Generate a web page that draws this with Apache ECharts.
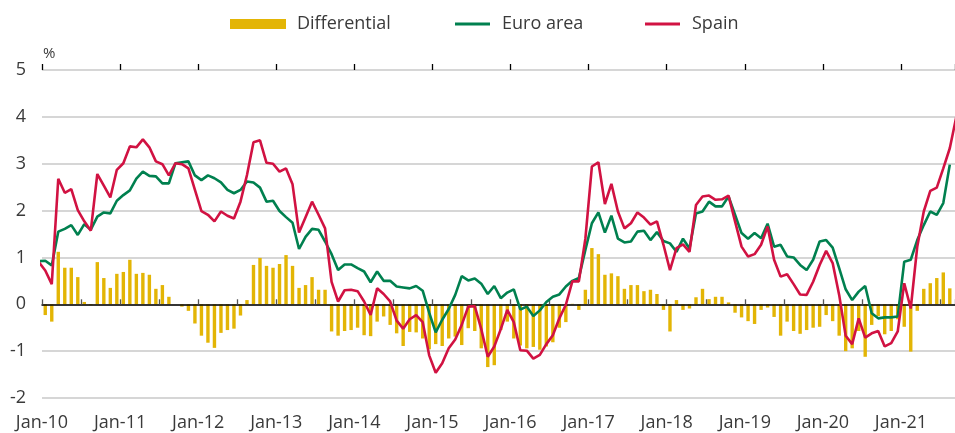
<!DOCTYPE html>
<html>
<head>
<meta charset="utf-8">
<script src="https://cdn.jsdelivr.net/npm/echarts@6/dist/echarts.min.js"></script>
<style>
html, body { margin: 0; padding: 0; background: #fff; }
#chart { width: 955px; height: 433px; }
</style>
</head>
<body>
<div id="chart"></div>
<script>
// monthly values, Dec-09 .. Sep-21 (first and last month sit just outside the plot)
var yearLabels = ['Jan-10', 'Jan-11', 'Jan-12', 'Jan-13', 'Jan-14', 'Jan-15',
    'Jan-16', 'Jan-17', 'Jan-18', 'Jan-19', 'Jan-20', 'Jan-21'];

var spain = [0.90,
    0.72, 0.43, 2.68, 2.38, 2.46, 2.01, 1.77, 1.57, 2.78, 2.53, 2.28, 2.87,
    3.01, 3.37, 3.35, 3.52, 3.35, 3.05, 2.99, 2.75, 3.01, 2.99, 2.90, 2.44,
    1.99, 1.91, 1.77, 1.98, 1.89, 1.83, 2.19, 2.76, 3.46, 3.50, 3.02, 3.00,
    2.83, 2.90, 2.56, 1.53, 1.86, 2.19, 1.91, 1.62, 0.48, 0.06, 0.30, 0.31,
    0.28, 0.06, -0.23, 0.34, 0.22, 0.06, -0.35, -0.52, -0.32, -0.23, -0.38, -1.09,
    -1.46, -1.26, -0.94, -0.75, -0.44, -0.05, -0.04, -0.53, -1.12, -0.90, -0.53, -0.12,
    -0.38, -0.98, -0.99, -1.16, -1.08, -0.85, -0.66, -0.30, -0.01, 0.49, 0.49, 1.40,
    2.94, 3.03, 2.14, 2.57, 1.98, 1.62, 1.73, 1.96, 1.85, 1.70, 1.77, 1.27,
    0.73, 1.20, 1.28, 1.12, 2.12, 2.30, 2.32, 2.23, 2.24, 2.32, 1.77, 1.23,
    1.02, 1.07, 1.27, 1.66, 0.95, 0.59, 0.64, 0.43, 0.21, 0.20, 0.48, 0.84,
    1.14, 0.88, 0.20, -0.67, -0.85, -0.30, -0.71, -0.62, -0.57, -0.90, -0.83, -0.58,
    0.45, -0.09, 1.23, 1.98, 2.42, 2.49, 2.90, 3.33, 4.00];

var euroArea = [0.92,
    0.93, 0.83, 1.55, 1.61, 1.69, 1.48, 1.71, 1.59, 1.87, 1.96, 1.94, 2.21,
    2.33, 2.43, 2.68, 2.83, 2.74, 2.73, 2.58, 2.58, 3.01, 3.03, 3.05, 2.75,
    2.65, 2.75, 2.69, 2.60, 2.44, 2.37, 2.44, 2.62, 2.60, 2.49, 2.19, 2.21,
    1.99, 1.86, 1.74, 1.18, 1.44, 1.61, 1.59, 1.34, 1.07, 0.73, 0.85, 0.85,
    0.77, 0.70, 0.47, 0.70, 0.50, 0.50, 0.38, 0.36, 0.34, 0.39, 0.29, -0.18,
    -0.60, -0.33, -0.10, 0.20, 0.60, 0.51, 0.55, 0.44, 0.22, 0.39, 0.13, 0.25,
    0.32, -0.11, -0.05, -0.25, -0.13, 0.05, 0.16, 0.21, 0.38, 0.50, 0.56, 1.16,
    1.73, 1.96, 1.53, 1.89, 1.40, 1.32, 1.34, 1.55, 1.57, 1.37, 1.54, 1.35,
    1.30, 1.12, 1.40, 1.19, 1.94, 1.98, 2.19, 2.09, 2.09, 2.30, 1.91, 1.52,
    1.40, 1.52, 1.41, 1.72, 1.23, 1.27, 1.02, 1.00, 0.84, 0.73, 0.95, 1.34,
    1.37, 1.21, 0.77, 0.32, 0.09, 0.27, 0.39, -0.19, -0.30, -0.28, -0.28, -0.26,
    0.91, 0.95, 1.37, 1.69, 1.98, 1.91, 2.16, 2.98, null];

var differential = [null,
    -0.23, -0.37, 1.12, 0.78, 0.78, 0.58, 0.05, -0.02, 0.90, 0.56, 0.35, 0.65,
    0.69, 0.95, 0.65, 0.67, 0.63, 0.33, 0.41, 0.16, 0.00, -0.05, -0.14, -0.41,
    -0.67, -0.82, -0.93, -0.61, -0.55, -0.52, -0.24, 0.09, 0.84, 0.99, 0.82, 0.78,
    0.86, 1.05, 0.82, 0.35, 0.41, 0.58, 0.31, 0.31, -0.58, -0.67, -0.57, -0.55,
    -0.50, -0.66, -0.68, -0.37, -0.26, -0.44, -0.62, -0.89, -0.59, -0.60, -0.73, -0.96,
    -0.85, -0.89, -0.73, -0.69, -0.87, -0.51, -0.57, -0.94, -1.34, -1.30, -0.55, -0.37,
    -0.73, -0.88, -0.94, -0.91, -0.97, -0.90, -0.81, -0.50, -0.38, 0.01, -0.12, 0.31,
    1.20, 1.07, 0.63, 0.66, 0.60, 0.33, 0.41, 0.41, 0.28, 0.31, 0.22, -0.12,
    -0.58, 0.09, -0.12, -0.09, 0.15, 0.33, 0.11, 0.16, 0.16, 0.04, -0.18, -0.28,
    -0.36, -0.42, -0.12, -0.07, -0.27, -0.67, -0.37, -0.57, -0.63, -0.55, -0.50, -0.48,
    -0.23, -0.36, -0.67, -1.00, -0.94, -0.57, -1.12, -0.44, -0.25, -0.64, -0.57, -0.32,
    -0.48, -1.01, -0.14, 0.33, 0.45, 0.56, 0.68, 0.34, null];

var FONT = '"Open Sans", "Noto Sans", sans-serif';
var TXT = '#3a3a3a';

// month i (Dec-09 = 0) is centred half a month before its index
function toXY(arr) {
    return arr.map(function (v, i) { return [i - 0.5, v]; });
}

var chart = echarts.init(document.getElementById('chart'), null, { renderer: 'canvas' });

var xBase = { type: 'value', min: 0, max: 140.3, interval: 6, splitLine: { show: false } };

function legendText(gap) {
    return { fontFamily: FONT, fontSize: 18, color: TXT, padding: [0, 0, 0, gap] };
}

chart.setOption({
    animation: false,
    grid: { left: 42, right: 0, top: 70, bottom: 35 },
    legend: [
        { data: ['Differential'], left: 230, top: 15, padding: 0, icon: 'rect',
          itemWidth: 56, itemHeight: 10, textStyle: legendText(6) },
        { data: ['Euro area'], left: 455, top: 15, padding: 0, icon: 'rect',
          itemWidth: 35, itemHeight: 3, textStyle: legendText(7) },
        { data: ['Spain'], left: 645, top: 15, padding: 0, icon: 'rect',
          itemWidth: 35, itemHeight: 3, textStyle: legendText(7) }
    ],
    graphic: [{
        type: 'text', left: 43, top: 46,
        style: { text: '%', fontFamily: FONT, fontSize: 15, fill: TXT }
    }],
    xAxis: [
        // zero line with short half-year ticks pointing up
        Object.assign({}, xBase, {
            z: 3,
            axisLine: { onZero: true, lineStyle: { color: '#000', width: 1.5 } },
            axisTick: { show: true, inside: true, length: 5, lineStyle: { color: '#555', width: 1.3 } },
            axisLabel: { show: false }
        }),
        // January ticks pointing down
        Object.assign({}, xBase, {
            z: 3, interval: 12,
            axisLine: { show: false, onZero: true },
            axisTick: { show: true, inside: false, length: 6, lineStyle: { color: '#000', width: 1.3 } },
            axisLabel: { show: false }
        }),
        // year labels at the bottom
        Object.assign({}, xBase, {
            interval: 12, position: 'bottom',
            axisLine: { show: false, onZero: false },
            axisTick: { show: false },
            axisLabel: {
                margin: 16, showMaxLabel: false,
                fontFamily: FONT, fontSize: 18, color: TXT,
                formatter: function (v) { return v % 12 === 0 ? (yearLabels[v / 12] || '') : ''; }
            }
        })
    ],
    yAxis: {
        type: 'value', min: -2, max: 5, interval: 1,
        axisLine: { show: false }, axisTick: { show: false },
        axisLabel: { margin: 16, fontFamily: FONT, fontSize: 18, color: TXT },
        splitLine: { lineStyle: { color: '#c8c8c8', width: 1.5 } }
    },
    series: [
        { name: 'Differential', type: 'bar', xAxisIndex: 0, z: 2, barWidth: 3.4,
          itemStyle: { color: '#E3B505' }, data: toXY(differential) },
        { name: 'Euro area', type: 'line', xAxisIndex: 0, z: 4, symbol: 'none',
          lineStyle: { color: '#00804F', width: 2.6 }, itemStyle: { color: '#00804F' },
          data: toXY(euroArea) },
        { name: 'Spain', type: 'line', xAxisIndex: 0, z: 5, symbol: 'none',
          lineStyle: { color: '#D11242', width: 2.6 }, itemStyle: { color: '#D11242' },
          data: toXY(spain) }
    ]
});
</script>
</body>
</html>
